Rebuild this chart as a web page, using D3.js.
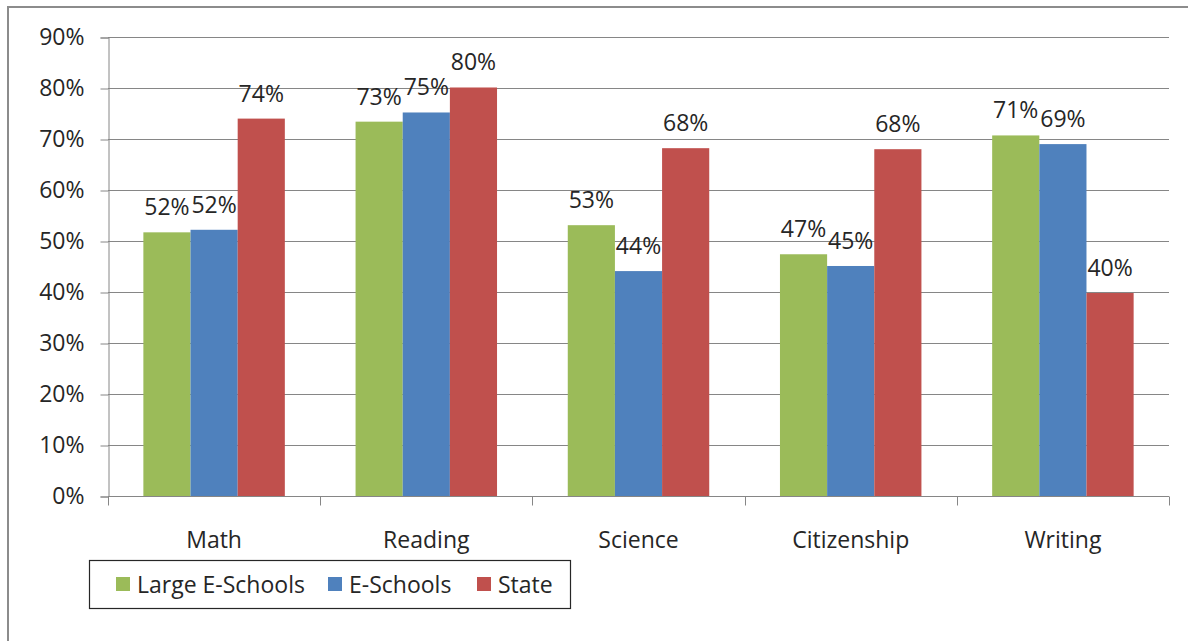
<!DOCTYPE html>
<html>
<head>
<meta charset="utf-8">
<script src="https://cdn.jsdelivr.net/npm/d3@7"></script>
<style>
  html, body { margin: 0; padding: 0; background: #fff; }
  svg text { font-family: "Open Sans", "DejaVu Sans", sans-serif; fill: #262626; }
</style>
</head>
<body>
<svg id="chart" width="1188" height="641"></svg>
<script>
// Subjects on the x axis
const subjects = ["Math", "Reading", "Science", "Citizenship", "Writing"];
// Series names and colours
const seriesNames = ["Large E-Schools", "E-Schools", "State"];
const seriesColors = ["#9bbb59", "#4f81bd", "#c0504d"];
// Percent passing, per series, in subject order
const largeESchools = [51.7, 73.4, 53.1, 47.4, 70.7];
const eSchools      = [52.2, 75.2, 44.1, 45.1, 69.0];
const state         = [74.0, 80.1, 68.2, 68.0, 39.8];
// Y-axis ticks
const yTicks = [0, 10, 20, 30, 40, 50, 60, 70, 80, 90];

const seriesValues = [largeESchools, eSchools, state];
const FONT = 23;

const svg = d3.select("#chart");

// outer frame
svg.append("line").attr("x1", 8).attr("x2", 8).attr("y1", 6).attr("y2", 641)
  .attr("stroke", "#8c8c8c").attr("stroke-width", 2);
svg.append("line").attr("x1", 7).attr("x2", 1188).attr("y1", 7).attr("y2", 7)
  .attr("stroke", "#8c8c8c").attr("stroke-width", 2);

const plot = { left: 108, right: 1169, top: 37, bottom: 496 };

const x = d3.scaleBand().domain(subjects).range([plot.left, plot.right]).paddingInner(0).paddingOuter(0);
const groupWidth = x.bandwidth() * 3 / 4.5;
const xs = d3.scaleBand().domain(d3.range(3)).range([0, groupWidth]);
const groupOffset = (x.bandwidth() - groupWidth) / 2;
const y = d3.scaleLinear().domain([0, 90]).range([plot.bottom, plot.top]);

// gridlines
svg.append("g").selectAll("line").data(yTicks.filter(d => d > 0)).join("line")
  .attr("x1", plot.left).attr("x2", plot.right)
  .attr("y1", d => Math.round(y(d)) + 0.5).attr("y2", d => Math.round(y(d)) + 0.5)
  .attr("stroke", "#868686").attr("stroke-width", 1);

// y axis
const yAxis = d3.axisLeft(y).tickValues(yTicks).tickSize(8).tickPadding(16).tickFormat(d => d + "%");
const gy = svg.append("g").attr("transform", `translate(${plot.left + 0.5},0.5)`).call(yAxis);
gy.select(".domain").attr("stroke", "#868686");
gy.selectAll(".tick line").attr("stroke", "#868686");
gy.selectAll(".tick text").attr("font-size", FONT).attr("fill", "#262626")
  .style("font-family", "'Open Sans', sans-serif");

// bars
const groups = svg.append("g").selectAll("g").data(subjects).join("g")
  .attr("transform", d => `translate(${x(d) + groupOffset},0)`);

groups.selectAll("rect").data((d, i) => seriesValues.map((vals, s) => ({ s, v: vals[i] }))).join("rect")
  .attr("x", d => xs(d.s))
  .attr("width", xs.bandwidth())
  .attr("y", d => y(d.v))
  .attr("height", d => y(0) - y(d.v))
  .attr("fill", d => seriesColors[d.s]);

// value labels
groups.selectAll("text.val").data((d, i) => seriesValues.map((vals, s) => ({ s, v: vals[i] }))).join("text")
  .attr("class", "val")
  .attr("x", d => xs(d.s) + xs.bandwidth() / 2)
  .attr("y", d => y(d.v) - 17)
  .attr("text-anchor", "middle")
  .attr("font-size", FONT)
  .text(d => Math.round(d.v) + "%");

// x axis
const xAxis = d3.axisBottom(x).tickSize(0).tickPadding(35);
const gx = svg.append("g").attr("transform", `translate(0,${plot.bottom + 0.5})`).call(xAxis);
gx.select(".domain").attr("stroke", "#868686").attr("d", `M${plot.left},0H${plot.right}`);
gx.selectAll(".tick text").attr("font-size", FONT).attr("fill", "#262626")
  .style("font-family", "'Open Sans', sans-serif");
// category boundary ticks
const bounds = subjects.map(s => x(s)).concat([plot.right]);
gx.append("g").selectAll("line").data(bounds).join("line")
  .attr("x1", d => Math.round(d) + 0.5).attr("x2", d => Math.round(d) + 0.5)
  .attr("y1", 0).attr("y2", 9).attr("stroke", "#868686");

// legend
const legend = svg.append("g");
legend.append("rect").attr("x", 89.5).attr("y", 560.5).attr("width", 481).attr("height", 48)
  .attr("fill", "#fff").attr("stroke", "#262626").attr("stroke-width", 1.2);
const legendX = [116, 328, 477];
seriesNames.forEach((name, i) => {
  legend.append("rect").attr("x", legendX[i]).attr("y", 577).attr("width", 14).attr("height", 14)
    .attr("fill", seriesColors[i]);
  legend.append("text").attr("x", legendX[i] + 21).attr("y", 593)
    .attr("font-size", FONT).text(name);
});
</script>
</body>
</html>
